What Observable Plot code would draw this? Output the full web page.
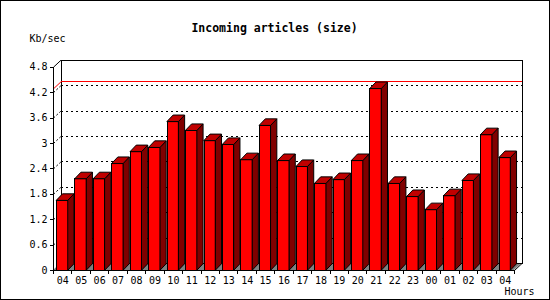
<!DOCTYPE html>
<html>
<head>
<meta charset="utf-8">
<script src="https://cdn.jsdelivr.net/npm/d3@7"></script>
<script src="https://cdn.jsdelivr.net/npm/@observablehq/plot@0.6"></script>
<style>
  html, body { margin: 0; padding: 0; background: white; }
  #chart svg { display: block; outline: 1px solid black; outline-offset: -1px; }
  #chart svg g[aria-label="rule"] *, #chart svg g[aria-label="frame"], #chart svg [aria-label="frame"],
  #chart svg g[aria-label="rect"] *, #chart svg g[aria-label="y-axis tick"] *, #chart svg g[aria-label="x-axis tick"] * { shape-rendering: crispEdges; }
</style>
</head>
<body>
<div id="chart"></div>
<script>
const hours = ["04","05","06","07","08","09","10","11","12","13","14","15","16","17","18","19","20","21","22","23","00","01","02","03","04"];
const values = [1.65,2.16,2.16,2.52,2.80,2.90,3.51,3.30,3.06,2.97,2.61,3.42,2.59,2.45,2.05,2.14,2.59,4.29,2.05,1.74,1.43,1.76,2.12,3.20,2.66];
const yTicks = [0,0.6,1.2,1.8,2.4,3,3.6,4.2,4.8];
const title = "Incoming articles (size)";
const yLabel = "Kb/sec";
const xLabel = "Hours";

// layout (pixels)
const W = 550, H = 300;
const X0 = 53, X1 = 514, Y0 = 270, Y1 = 66.7;
const nSlots = hours.length;
const yMax = 4.8;
const pxX = (X1 - X0) / nSlots;
const pxY = (Y0 - Y1) / yMax;
const PDX = 7.5, PDY = 7;      // back plane depth
const BDX = 6, BDY = 6.3;      // bar depth
const offL = 3.5 / pxX, bw = 11.5 / pxX;
const bdx = BDX / pxX, bdy = BDY / pxY;
const pdx = PDX / pxX, pdy = PDY / pxY;

const data = hours.map((h, i) => ({i, h, v: values[i]}));
const sidePts = data.flatMap(d => [
  {i: d.i, x: d.i + offL + bw, y1: 0, y2: d.v},
  {i: d.i, x: d.i + offL + bw + bdx, y1: bdy, y2: d.v + bdy}
]);
const topPts = data.flatMap(d => [
  {i: d.i, y: d.v, x1: d.i + offL, x2: d.i + offL + bw},
  {i: d.i, y: d.v + bdy, x1: d.i + offL + bdx, x2: d.i + offL + bw + bdx}
]);
const floorPts = [
  {y: 0, x1: 0, x2: nSlots},
  {y: pdy, x1: pdx, x2: nSlots + pdx}
];
const maxV = d3.max(values);
const centers = data.map(d => d.i + offL + bw / 2);

const chart = Plot.plot({
  width: W,
  height: H,
  marginLeft: X0,
  marginRight: W - X1,
  marginTop: Y1,
  marginBottom: H - Y0,
  style: {fontFamily: "DejaVu Sans Mono", fontSize: "10px", background: "white", color: "black"},
  x: {type: "linear", domain: [0, nSlots]},
  y: {type: "linear", domain: [0, yMax]},
  marks: [
    // floor
    Plot.areaX(floorPts, {y: "y", x1: "x1", x2: "x2", fill: "#808080"}),
    // back plane
    Plot.frame({dx: PDX, dy: -PDY, stroke: "black", strokeWidth: 1}),
    Plot.ruleY(yTicks.slice(1, -1), {dx: PDX, dy: -PDY, stroke: "black", strokeDasharray: "2,3"}),
    Plot.link(yTicks.slice(1, -1), {x1: 0, y1: d => d, x2: pdx, y2: d => d + pdy, stroke: "black", strokeDasharray: "2,2"}),
    Plot.link([yMax], {x1: 0, y1: d => d, x2: pdx, y2: d => d + pdy, stroke: "black"}),
    Plot.link([0], {x1: nSlots, y1: d => d, x2: nSlots + pdx, y2: d => d + pdy, stroke: "black"}),
    // max line
    Plot.ruleY([maxV], {dx: PDX, dy: -PDY, stroke: "#ff0000"}),
    Plot.link([maxV], {x1: 0, y1: d => d, x2: pdx, y2: d => d + pdy, stroke: "#ff0000"}),
    // bars
    Plot.rect(data, {x1: d => d.i + offL, x2: d => d.i + offL + bw, y1: 0, y2: "v", fill: "#ff0000", stroke: "black", strokeWidth: 1}),
    Plot.areaY(sidePts, {x: "x", y1: "y1", y2: "y2", z: "i", fill: "#800000", stroke: "black", strokeWidth: 1}),
    Plot.areaX(topPts, {y: "y", x1: "x1", x2: "x2", z: "i", fill: "#c00000", stroke: "black", strokeWidth: 1}),
    // front axes lines
    Plot.ruleX([0], {y1: 0, y2: yMax, stroke: "black"}),
    Plot.ruleY([0], {x1: 0, x2: nSlots, stroke: "black"}),
    // y axis
    Plot.axisY({ticks: yTicks, tickSize: 3, tickPadding: 3, tickFormat: d => String(+d.toFixed(1)), label: null, fontSize: 10}),
    // x axis ticks and labels
    Plot.axisX({ticks: d3.range(0, nSlots + 1), tickSize: 4, tickFormat: () => "", label: null}),
    Plot.axisX({ticks: centers, tickSize: 0, tickPadding: 6, tickFormat: (d, i) => hours[i], label: null, fontSize: 10}),
    // texts
    Plot.text([title], {frameAnchor: "top-left", dx: 274 - X0, dy: 28 - Y1, lineAnchor: "middle", textAnchor: "middle", fontWeight: "bold", fontSize: 11.5}),
    Plot.text([yLabel], {frameAnchor: "top-left", dx: 29 - X0, dy: 38 - Y1, lineAnchor: "middle", textAnchor: "start", fontSize: 10}),
    Plot.text([xLabel], {frameAnchor: "bottom-right", dx: 534 - X1, dy: 291 - Y0, lineAnchor: "middle", textAnchor: "end", fontSize: 10})
  ]
});
document.getElementById("chart").appendChild(chart);
</script>
</body>
</html>
